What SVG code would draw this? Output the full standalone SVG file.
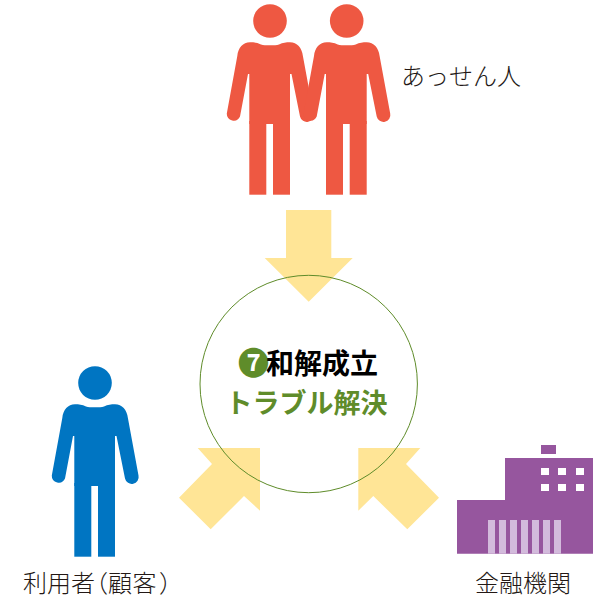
<svg xmlns="http://www.w3.org/2000/svg" xmlns:xlink="http://www.w3.org/1999/xlink" width="607" height="595" viewBox="0 0 607 595">
<style>
text{font-family:"Noto Sans CJK JP","Noto Sans",sans-serif}
.lab{font-size:24px;fill:#231815;font-weight:300}
.arrow{fill:#FFE596}
.b{font-weight:700}
</style>
<defs>
<g id="person">
<circle cx="0" cy="0" r="16.8"/>
<path d="M-20 21.3C-16 21.3 -13 21.6 -9 23.4C-5 24.6 5 24.6 9 23.4C13 21.6 16 21.3 20 21.3C27 21.3 32 27 32.9 35L43.5 92.5A6.9 6.9 0 0 1 30 95.5L21.5 53H20V103H-20.7V53H-22L-30 95.5A6.9 6.9 0 0 1 -43.2 92.5L-32.7 35C-32 27 -27 21.3 -20 21.3Z"/>
<rect x="-20.7" y="100" width="17" height="73.7"/>
<rect x="3" y="100" width="17" height="73.7"/>
</g>
</defs>
<g id="connectors">
<path class="arrow" d="M286 210H331.3V258H352.7L308.7 301.7L264.7 258H286Z"/>
<path class="arrow" d="M197.7 448H260V510.7L244 496L210.7 529.3L179 497.7L212 464Z"/>
<path class="arrow" d="M358.3 448H420.3L406 464L439 497.7L407.3 529.3L373.3 496L358.3 510.7Z"/>
</g>
<g id="node-center">
<circle cx="308.7" cy="384" r="108.7" fill="none" stroke="#5F8C2A" stroke-width="1"/>
<text class="b" fill="#000" font-size="28" y="374"><tspan x="238" font-size="31" fill="#5F8C2A">❼</tspan><tspan x="266">和解成立</tspan></text>
<text x="225.5" y="412.5" class="b" fill="#5F8C2A" font-size="27">トラブル解決</text>
</g>
<g id="node-broker" fill="#EE5842">
<use xlink:href="#person" href="#person" x="270" y="21"/>
<use xlink:href="#person" href="#person" x="346.7" y="21"/>
<text x="401" y="85" class="lab">あっせん人</text>
</g>
<g id="node-customer" fill="#0075C2">
<use xlink:href="#person" href="#person" x="95" y="383"/>
<text y="592" class="lab" x="23 47 71 84 108 132.5 159">利用者（顧客）</text>
</g>
<g id="node-bank">
<path fill="#96569E" d="M505 458H593V553.7H457V500H505Z"/>
<rect x="541" y="445" width="15" height="9" fill="#96569E"/>
<g fill="#fff">
<rect x="541" y="468" width="8" height="7"/><rect x="558" y="468" width="8" height="7"/><rect x="576" y="468" width="8" height="7"/>
<rect x="541" y="484" width="8" height="7"/><rect x="558" y="484" width="8" height="7"/><rect x="576" y="484" width="8" height="7"/>
</g>
<g fill="#D3BBDC">
<rect x="488" y="520" width="7" height="33.7"/><rect x="499" y="520" width="7" height="33.7"/><rect x="510" y="520" width="7" height="33.7"/><rect x="521" y="520" width="7" height="33.7"/><rect x="532" y="520" width="7" height="33.7"/><rect x="543" y="520" width="7" height="33.7"/><rect x="554" y="520" width="7" height="33.7"/>
</g>
<text x="475" y="592" class="lab">金融機関</text>
</g>
</svg>
